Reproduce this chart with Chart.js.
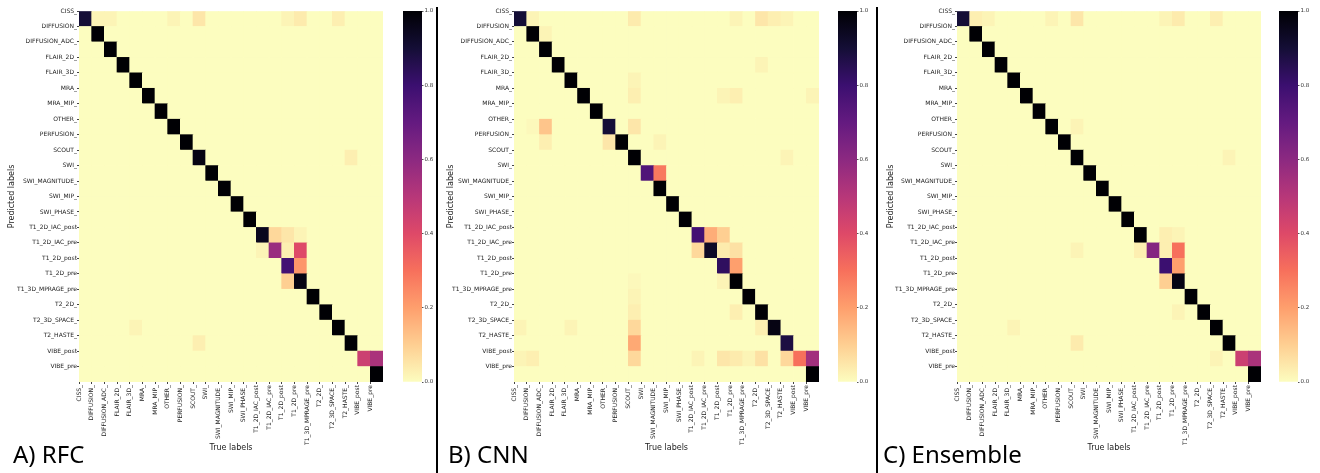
<!DOCTYPE html>
<html>
<head>
<meta charset="utf-8">
<script src="https://cdn.jsdelivr.net/npm/chart.js@4.4.1/dist/chart.umd.min.js"></script>
<style>
  body { margin: 0; background: #fff; width: 1320px; height: 473px; position: relative; overflow: hidden; }
  canvas { position: absolute; top: 0; }
  .tag { position: absolute; top: 442px; font-family: "Noto Sans"; font-size: 24px; line-height: 24px; color: #000; white-space: nowrap; }
  .sep { position: absolute; top: 7px; width: 2px; height: 466px; background: #000; }
</style>
</head>
<body>
<canvas id="hmA" width="400" height="473" style="left:0px"></canvas>
<canvas id="cbA" width="32" height="473" style="left:403px"></canvas>
<canvas id="hmB" width="396" height="473" style="left:440px"></canvas>
<canvas id="cbB" width="32" height="473" style="left:838px"></canvas>
<canvas id="hmC" width="402" height="473" style="left:876px"></canvas>
<canvas id="cbC" width="41" height="473" style="left:1279px"></canvas>
<div class="sep" style="left:436px"></div>
<div class="sep" style="left:876px"></div>
<div class="tag" style="left:13px">A) RFC</div>
<div class="tag" style="left:448px">B) CNN</div>
<div class="tag" style="left:883px">C) Ensemble</div>
<script>
// categories (same for rows = predicted, columns = true)
const labels = ['CISS_', 'DIFFUSION_', 'DIFFUSION_ADC_', 'FLAIR_2D_', 'FLAIR_3D_', 'MRA_', 'MRA_MIP_',
  'OTHER_', 'PERFUSION_', 'SCOUT_', 'SWI_', 'SWI_MAGNITUDE_', 'SWI_MIP_', 'SWI_PHASE_',
  'T1_2D_IAC_post', 'T1_2D_IAC_pre', 'T1_2D_post', 'T1_2D_pre', 'T1_3D_MPRAGE_pre',
  'T2_2D_', 'T2_3D_SPACE_', 'T2_HASTE_', 'VIBE_post', 'VIBE_pre'];
const colorbarTicks = [0, 0.2, 0.4, 0.6, 0.8, 1.0];

// diagonal values + off diagonal cells [row, col, value]
const rfcDiag = [0.9, 1, 1, 1, 1, 1, 1, 1, 1, 0.97, 1, 1, 1, 1, 0.95, 0.57, 0.78, 0.97, 1, 1, 1, 1, 0.45, 1];
const rfcOff = [[0, 1, 0.02], [0, 2, 0.02], [0, 7, 0.02], [0, 9, 0.05], [0, 16, 0.02], [0, 17, 0.04], [0, 20, 0.03],
  [9, 21, 0.03], [14, 15, 0.08], [14, 16, 0.05], [14, 17, 0.02], [15, 14, 0.02], [15, 16, 0.03], [15, 17, 0.4],
  [16, 17, 0.22], [17, 16, 0.1], [20, 4, 0.02], [21, 9, 0.03], [22, 23, 0.53]];

const cnnDiag = [0.9, 1, 1, 1, 1, 1, 1, 0.9, 1, 1, 0.75, 1, 1, 1, 0.78, 0.93, 0.83, 1, 1, 1, 0.97, 0.88, 0.3, 1];
const cnnOff = [[0, 1, 0.02], [0, 9, 0.04], [0, 17, 0.02], [0, 19, 0.05], [0, 20, 0.03], [0, 21, 0.02], [1, 2, 0.02],
  [3, 19, 0.02], [4, 9, 0.02], [5, 9, 0.03], [5, 16, 0.02], [5, 17, 0.03], [5, 23, 0.02], [7, 1, 0.01], [7, 2, 0.12],
  [7, 9, 0.05], [8, 2, 0.03], [8, 7, 0.05], [8, 11, 0.02], [9, 21, 0.02], [10, 11, 0.28], [14, 15, 0.17], [14, 16, 0.1],
  [15, 14, 0.08], [15, 16, 0.04], [15, 17, 0.06], [16, 17, 0.2], [17, 9, 0.01], [17, 16, 0.02], [18, 9, 0.02],
  [19, 9, 0.03], [19, 17, 0.03], [20, 0, 0.02], [20, 4, 0.02], [20, 9, 0.08], [20, 19, 0.03], [21, 9, 0.18],
  [22, 0, 0.02], [22, 1, 0.03], [22, 9, 0.08], [22, 14, 0.02], [22, 16, 0.05], [22, 17, 0.04], [22, 18, 0.02],
  [22, 19, 0.06], [22, 21, 0.08], [22, 23, 0.55]];

const ensDiag = [0.9, 1, 1, 1, 1, 1, 1, 1, 1, 1, 1, 1, 1, 1, 1, 0.62, 0.8, 0.97, 1, 1, 1, 1, 0.45, 1];
const ensOff = [[0, 1, 0.03], [0, 2, 0.02], [0, 7, 0.02], [0, 9, 0.05], [0, 16, 0.02], [0, 17, 0.04], [0, 20, 0.03],
  [7, 9, 0.02], [9, 21, 0.02], [14, 16, 0.03], [14, 17, 0.02], [15, 9, 0.02], [15, 14, 0.03], [15, 16, 0.03],
  [15, 17, 0.3], [16, 17, 0.2], [17, 16, 0.1], [19, 17, 0.02], [20, 4, 0.02], [21, 9, 0.04], [22, 20, 0.02],
  [22, 23, 0.53]];

Chart.defaults.font.family = 'DejaVu Sans';

// magma, reversed (0 -> pale yellow, 1 -> black)
const magma = ['#000004', '#140e36', '#3b0f70', '#641a80', '#8c2981', '#b73779',
  '#de4968', '#f7705c', '#fe9f6d', '#fecf92', '#fcfdbf'];
const hex = h => [1, 3, 5].map(i => parseInt(h.substr(i, 2), 16));
function magmaR(v) {
  const t = (1 - Math.max(0, Math.min(1, v))) * 10;
  const i = Math.min(9, Math.floor(t));
  const f = t - i;
  const a = hex(magma[i]), b = hex(magma[i + 1]);
  const c = a.map((x, k) => Math.round(x + (b[k] - x) * f));
  return `rgb(${c[0]},${c[1]},${c[2]})`;
}

function buildMatrix(diag, off) {
  const m = labels.map((_, r) => labels.map((_, c) => (r === c ? diag[r] : 0)));
  off.forEach(([r, c, v]) => { m[r][c] = v; });
  return m;
}

function axisTicks(s) { s.ticks = labels.map((_, i) => ({ value: i })); }

function heatmap(id, matrix, panelLeft, hmLeft, titleX) {
  const cells = [], colors = [];
  matrix.forEach((row, r) => row.forEach((v, c) => {
    cells.push({ x: c + 0.5, y: [r, r + 1] });
    colors.push(magmaR(v));
  }));
  const padLeft = titleX - panelLeft - 4.8;
  new Chart(document.getElementById(id), {
    type: 'bar',
    data: {
      datasets: [{
        data: cells,
        backgroundColor: colors,
        borderWidth: 0,
        categoryPercentage: 1,
        barPercentage: 1,
      }],
    },
    options: {
      responsive: false,
      animation: false,
      layout: { padding: { left: padLeft, top: 11, right: 17, bottom: 20 } },
      plugins: { legend: { display: false }, tooltip: { enabled: false } },
      scales: {
        x: {
          type: 'linear', min: 0, max: 24, offset: false,
          afterBuildTicks: axisTicks,
          afterFit: s => { s.height = 473 - 20 - 382; },
          ticks: { autoSkip: false, minRotation: 90, maxRotation: 90, padding: 1,
            font: { size: 6 }, color: '#222', callback: v => labels[v] },
          grid: { drawOnChartArea: false, tickLength: 2, color: '#444', offset: false },
          border: { display: false },
          title: { display: true, text: 'True labels', font: { size: 8 }, color: '#222', padding: 0 },
        },
        y: {
          type: 'linear', min: 0, max: 24, reverse: true,
          afterBuildTicks: axisTicks,
          afterFit: s => { s.width = hmLeft - panelLeft - padLeft; },
          ticks: { autoSkip: false, padding: 0, font: { size: 6 }, color: '#222', callback: v => labels[v] },
          grid: { drawOnChartArea: false, tickLength: 2, color: '#444' },
          border: { display: false },
          title: { display: true, text: 'Predicted labels', font: { size: 8 }, color: '#222', padding: 0 },
        },
      },
    },
  });
}

function colorbar(id) {
  const el = document.getElementById(id);
  new Chart(el, {
    type: 'bar',
    data: {
      labels: [''],
      datasets: [{
        data: [[0, 1]],
        backgroundColor: ctx => {
          const a = ctx.chart.chartArea;
          if (!a) return magmaR(0.5);
          const g = ctx.chart.ctx.createLinearGradient(0, a.bottom, 0, a.top);
          for (let k = 0; k <= 20; k++) g.addColorStop(k / 20, magmaR(k / 20));
          return g;
        },
        borderWidth: 0,
        categoryPercentage: 1,
        barPercentage: 1,
      }],
    },
    options: {
      responsive: false,
      animation: false,
      layout: { padding: { left: 0, top: 11, right: 0, bottom: 91 } },
      plugins: { legend: { display: false }, tooltip: { enabled: false } },
      scales: {
        x: { display: false },
        y: {
          position: 'right', min: 0, max: 1,
          afterBuildTicks: s => { s.ticks = colorbarTicks.map(v => ({ value: v })); },
          afterFit: s => { s.width = el.width - 19; },
          ticks: { padding: 1, font: { size: 5.5 }, color: '#333', callback: v => v.toFixed(1) },
          grid: { drawOnChartArea: false, tickLength: 1.5, color: '#555' },
          border: { display: false },
        },
      },
    },
  });
}

heatmap('hmA', buildMatrix(rfcDiag, rfcOff), 0, 79, 11.5);
heatmap('hmB', buildMatrix(cnnDiag, cnnOff), 440, 514, 451);
heatmap('hmC', buildMatrix(ensDiag, ensOff), 876, 957, 891);
colorbar('cbA');
colorbar('cbB');
colorbar('cbC');
</script>
</body>
</html>
